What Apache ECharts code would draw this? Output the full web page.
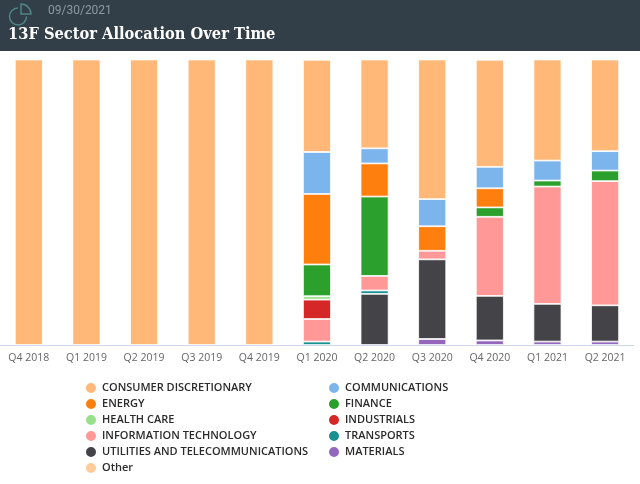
<!DOCTYPE html>
<html>
<head>
<meta charset="utf-8">
<style>html,body{margin:0;padding:0;background:#fff}#c{width:640px;height:484px}</style>
<script src="https://cdn.jsdelivr.net/npm/echarts@6/dist/echarts.min.js"></script>
</head>
<body>
<div id="c"></div>
<script>
const categories = ['Q4 2018','Q1 2019','Q2 2019','Q3 2019','Q4 2019','Q1 2020','Q2 2020','Q3 2020','Q4 2020','Q1 2021','Q2 2021'];
const consumer  = [100,100,100,100,100,32.3,31.1,48.9,37.5,35.4,32.1];
const comms     = [null,null,null,null,null,14.7,5.3,9.5,7.5,7.0,6.8];
const energy    = [null,null,null,null,null,24.7,11.6,8.6,6.7,null,null];
const finance   = [null,null,null,null,null,11.1,27.8,null,3.3,2.1,3.7];
const health    = [null,null,null,null,null,1.2,null,null,null,null,null];
const industrials = [null,null,null,null,null,6.8,null,null,null,null,null];
const infotech  = [null,null,null,null,null,7.9,5.1,3.0,27.7,41.1,43.5];
const transports = [null,null,null,null,null,1.2,1.2,null,null,null,null];
const utilities = [null,null,null,null,null,null,17.9,27.9,15.6,13.2,12.7];
const materials = [null,null,null,null,null,null,null,2.1,1.6,1.2,1.2];
const other     = [null,null,null,null,null,null,null,null,null,null,null];

const seriesDefs = [
  ['CONSUMER DISCRETIONARY', consumer, '#ffb877'],
  ['COMMUNICATIONS', comms, '#7cb5ec'],
  ['ENERGY', energy, '#ff7f0e'],
  ['FINANCE', finance, '#2ca02c'],
  ['HEALTH CARE', health, '#98df8a'],
  ['INDUSTRIALS', industrials, '#d62728'],
  ['INFORMATION TECHNOLOGY', infotech, '#ff9896'],
  ['TRANSPORTS', transports, '#17908f'],
  ['UTILITIES AND TELECOMMUNICATIONS', utilities, '#434348'],
  ['MATERIALS', materials, '#9467bd'],
  ['Other', other, '#ffcc99']
];
const legendLeft = ['CONSUMER DISCRETIONARY','ENERGY','HEALTH CARE','INFORMATION TECHNOLOGY','UTILITIES AND TELECOMMUNICATIONS','Other'];
const legendRight = ['COMMUNICATIONS','FINANCE','INDUSTRIALS','TRANSPORTS','MATERIALS'];

const legendBase = {
  orient:'vertical', icon:'circle', itemWidth:12, itemHeight:12, itemGap:2, top:381, selectedMode:false,
  padding:0,
  textStyle:{fontFamily:'"Open Sans"',fontSize:11,fontWeight:600,color:'#2b2b2b',padding:[0,0,0,0],lineHeight:12}
};
const chart = echarts.init(document.getElementById('c'),null,{renderer:'canvas'});
chart.setOption({
  animation:false,
  backgroundColor:'#fff',
  grid:{left:-2.1,right:6.1,top:59.5,bottom:139},
  xAxis:{type:'category',data:categories,
    axisLine:{lineStyle:{color:'#ccd6eb'}},axisTick:{show:false},
    axisLabel:{interval:0,color:'#666',fontFamily:'"Open Sans"',fontSize:10.5,margin:8}},
  yAxis:{type:'value',min:0,max:100,show:false},
  legend:[
    Object.assign({},legendBase,{left:84,data:legendLeft}),
    Object.assign({},legendBase,{left:327,data:legendRight})
  ],
  series:seriesDefs.slice().reverse().map(d=>({
    name:d[0],type:'bar',stack:'a',barWidth:28,data:d[1],
    itemStyle:{color:d[2],borderColor:'#fff',borderWidth:0.8}
  })),
  graphic:[
    {type:'rect',z:-1,shape:{x:0,y:0,width:640,height:51},style:{fill:'#323f48'}},
    {type:'arc',shape:{cx:18,cy:16.5,r:8.5,startAngle:0,endAngle:Math.PI*1.5,clockwise:true},style:{stroke:'#4f8585',lineWidth:1.5,fill:null}},
    {type:'sector',shape:{cx:21,cy:14,r:10,r0:0,startAngle:-Math.PI/2,endAngle:0,clockwise:true},style:{stroke:'#4f8585',lineWidth:1.5,fill:'transparent'}},
    {type:'text',x:48,y:5,style:{text:'09/30/2021',fill:'#8b99a3',font:'12px Roboto'}},
    {type:'text',x:8,y:27,style:{text:'13F Sector Allocation Over Time',fill:'#fff',font:'bold 16.3px "DejaVu Serif Condensed"'}}
  ]
});
</script>
</body>
</html>
